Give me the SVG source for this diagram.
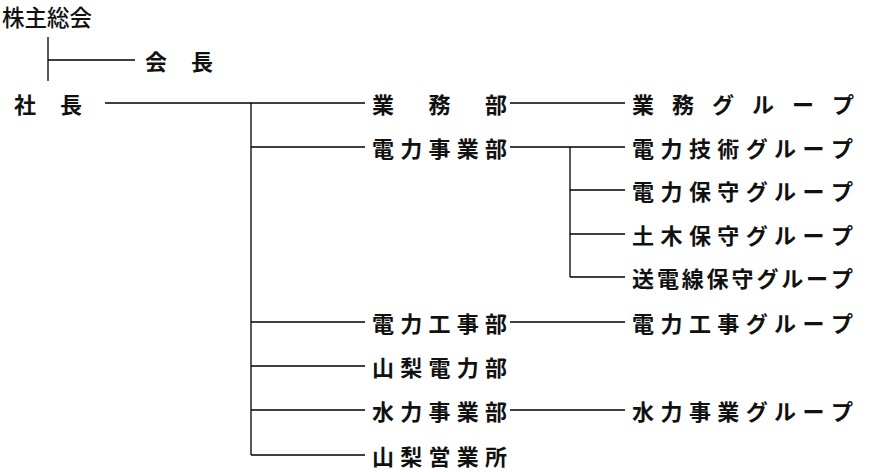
<svg xmlns="http://www.w3.org/2000/svg" width="870" height="472" viewBox="0 0 870 472">
<style>
text{font-family:"Noto Sans CJK JP","Noto Sans CJK SC",sans-serif;font-size:22px;fill:#111;dominant-baseline:central;font-weight:700}
.lt{font-weight:500;font-size:22.5px}
.ln{stroke:#000;stroke-width:1.3;fill:none}
</style>
<rect width="870" height="472" fill="#fff"/>
<g id="connectors" class="ln">
<path d="M48 37V81M48 60H135"/>
<path d="M105 103H365M251 103V455M251 147H365M251 322H365M251 366H365M251 410H365M251 455H365"/>
<path d="M510 103H625M510 147H625M570 147V277M570 190H625M570 234H625M570 277H625M510 322H625M510 410H625"/>
</g>
<g id="n-shareholders"><text class="lt" x="2 24.5 47 69.5" y="16">株主総会</text></g>
<g id="n-chairman"><text x="145 191" y="60">会長</text></g>
<g id="n-president"><text x="14 60" y="103">社長</text></g>
<g id="n-gyomubu"><text x="372 428.5 485" y="103">業務部</text></g>
<g id="n-denryokujigyobu"><text x="372 400.25 428.5 456.75 485" y="147">電力事業部</text></g>
<g id="n-denryokukojibu"><text x="372 400.25 428.5 456.75 485" y="322">電力工事部</text></g>
<g id="n-yamanashidenryokubu"><text x="372 400.25 428.5 456.75 485" y="366">山梨電力部</text></g>
<g id="n-suiryokujigyobu"><text x="372 400.25 428.5 456.75 485" y="410">水力事業部</text></g>
<g id="n-yamanashieigyosho"><text x="372 400.25 428.5 456.75 485" y="455">山梨営業所</text></g>
<g id="n-gyomu-g"><text x="632 672 712 752 792 832" y="103">業務グループ</text></g>
<g id="n-denryokugijutsu-g"><text x="632 660.4 688.9 717.3 745.7 774.1 802.6 831" y="147">電力技術グループ</text></g>
<g id="n-denryokuhoshu-g"><text x="632 660.4 688.9 717.3 745.7 774.1 802.6 831" y="190">電力保守グループ</text></g>
<g id="n-dobokuhoshu-g"><text x="632 660.4 688.9 717.3 745.7 774.1 802.6 831" y="234">土木保守グループ</text></g>
<g id="n-sodensenhoshu-g"><text x="632 656.9 681.8 706.6 731.5 756.4 781.3 806.1 831" y="277">送電線保守グループ</text></g>
<g id="n-denryokukoji-g"><text x="632 660.4 688.9 717.3 745.7 774.1 802.6 831" y="322">電力工事グループ</text></g>
<g id="n-suiryokujigyo-g"><text x="632 660.4 688.9 717.3 745.7 774.1 802.6 831" y="410">水力事業グループ</text></g>
</svg>
